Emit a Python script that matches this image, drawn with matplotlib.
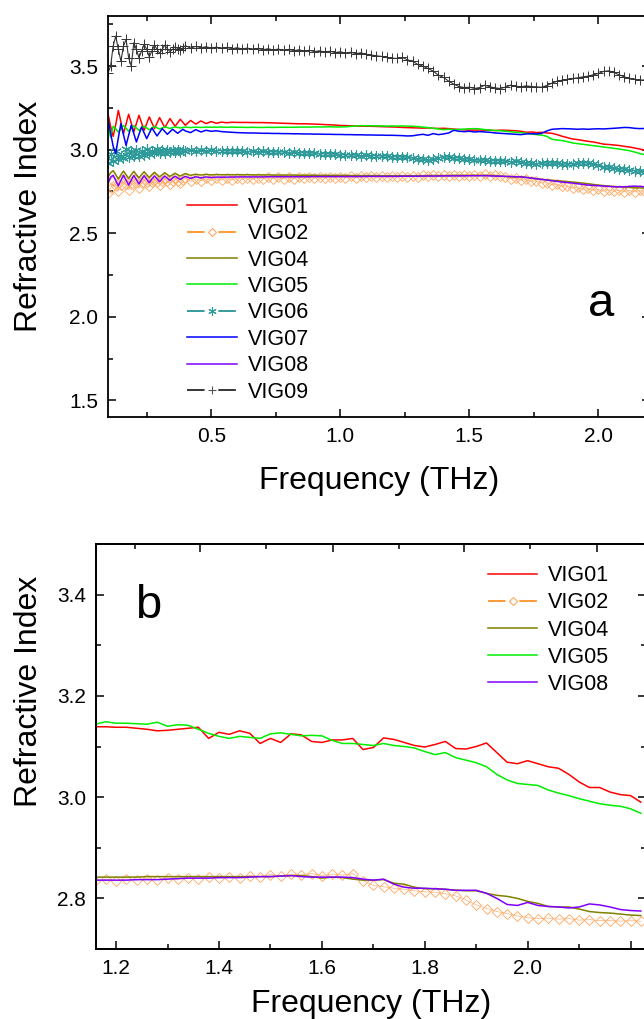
import numpy as np
import matplotlib
matplotlib.use("Agg")
import matplotlib.pyplot as plt
from matplotlib.lines import Line2D
from matplotlib.ticker import MultipleLocator

plt.rcParams["font.family"] = ["Liberation Sans", "DejaVu Sans"]

# ---- panel a: full spectra (0.01 THz steps up to 0.40, then 0.02 THz) ----
FREQ_A = np.round(np.concatenate([np.arange(0.10, 0.405, 0.01),
                                  np.arange(0.42, 2.205, 0.02)]), 2)

VIG01_A = [
    3.215, 3.140, 3.080, 3.150, 3.235, 3.166, 3.096, 3.154, 3.212, 3.159,
    3.106, 3.156, 3.206, 3.161, 3.116, 3.156, 3.196, 3.161, 3.126, 3.159,
    3.192, 3.162, 3.132, 3.159, 3.186, 3.163, 3.140, 3.161, 3.182, 3.164, 3.146,
    3.175, 3.153, 3.172, 3.156, 3.168, 3.158, 3.165, 3.161, 3.164, 3.163,
    3.163, 3.163, 3.162, 3.162, 3.162, 3.161, 3.160, 3.159, 3.158, 3.157,
    3.156, 3.155, 3.155, 3.154, 3.153, 3.152, 3.150, 3.149, 3.147, 3.145,
    3.144, 3.143, 3.142, 3.141, 3.140, 3.140, 3.139, 3.138, 3.137, 3.136,
    3.135, 3.133, 3.132, 3.131, 3.130, 3.129, 3.130, 3.128, 3.127, 3.128,
    3.126, 3.123, 3.121, 3.119, 3.117, 3.117, 3.118, 3.116, 3.117, 3.114,
    3.117, 3.116, 3.115, 3.113, 3.110, 3.104, 3.106, 3.102, 3.104, 3.100,
    3.098, 3.090, 3.080, 3.072, 3.064, 3.060, 3.055, 3.050, 3.046, 3.040,
    3.033, 3.031, 3.028, 3.025, 3.020, 3.016, 3.010, 3.004, 2.997, 2.990,
]
VIG02_A = [
    2.740, 2.770, 2.812, 2.785, 2.752, 2.790, 2.822, 2.792, 2.760, 2.795,
    2.826, 2.798, 2.770, 2.801, 2.826, 2.804, 2.780, 2.806, 2.828, 2.808,
    2.788, 2.810, 2.828, 2.812, 2.796, 2.814, 2.828, 2.815, 2.800, 2.817, 2.828,
    2.810, 2.826, 2.814, 2.828, 2.816, 2.829, 2.818, 2.830, 2.820, 2.831,
    2.822, 2.832, 2.823, 2.833, 2.824, 2.834, 2.825, 2.835, 2.826, 2.835,
    2.827, 2.836, 2.828, 2.837, 2.829, 2.838, 2.830, 2.838, 2.831, 2.839,
    2.832, 2.840, 2.833, 2.841, 2.834, 2.842, 2.835, 2.842, 2.836, 2.843,
    2.837, 2.844, 2.838, 2.845, 2.839, 2.846, 2.840, 2.847, 2.841, 2.848,
    2.842, 2.849, 2.843, 2.850, 2.843, 2.851, 2.844, 2.852, 2.844, 2.850,
    2.840, 2.836, 2.826, 2.830, 2.818, 2.822, 2.810, 2.814, 2.800, 2.803,
    2.790, 2.794, 2.780, 2.784, 2.770, 2.774, 2.762, 2.768, 2.756, 2.762,
    2.752, 2.760, 2.750, 2.758, 2.748, 2.757, 2.748, 2.756, 2.748, 2.755,
]
VIG04_A = [
    2.835, 2.862, 2.874, 2.850, 2.824, 2.849, 2.872, 2.850, 2.828, 2.850,
    2.870, 2.850, 2.831, 2.850, 2.868, 2.850, 2.834, 2.850, 2.865, 2.850,
    2.837, 2.850, 2.862, 2.850, 2.840, 2.850, 2.859, 2.850, 2.842, 2.850, 2.857,
    2.846, 2.853, 2.848, 2.852, 2.849, 2.851, 2.850, 2.850, 2.850, 2.850,
    2.850, 2.850, 2.849, 2.849, 2.849, 2.849, 2.848, 2.848, 2.848, 2.848,
    2.848, 2.847, 2.847, 2.847, 2.847, 2.846, 2.846, 2.846, 2.846, 2.846,
    2.846, 2.845, 2.845, 2.845, 2.845, 2.845, 2.845, 2.844, 2.844, 2.844,
    2.844, 2.844, 2.844, 2.844, 2.844, 2.844, 2.845, 2.845, 2.845, 2.845,
    2.845, 2.846, 2.846, 2.846, 2.846, 2.846, 2.846, 2.846, 2.846, 2.844,
    2.842, 2.840, 2.838, 2.836, 2.838, 2.834, 2.830, 2.826, 2.822, 2.820,
    2.817, 2.814, 2.812, 2.809, 2.806, 2.803, 2.800, 2.796, 2.792, 2.788,
    2.785, 2.782, 2.780, 2.778, 2.776, 2.774, 2.772, 2.771, 2.770, 2.769,
]
VIG05_A = [
    3.140, 3.075, 3.140, 3.125, 3.105, 3.125, 3.145, 3.128, 3.110, 3.127,
    3.143, 3.129, 3.115, 3.128, 3.141, 3.130, 3.119, 3.129, 3.139, 3.131,
    3.123, 3.130, 3.137, 3.132, 3.127, 3.132, 3.136, 3.133, 3.130, 3.133, 3.135,
    3.132, 3.135, 3.133, 3.135, 3.134, 3.135, 3.135, 3.134, 3.135, 3.134,
    3.134, 3.133, 3.134, 3.133, 3.133, 3.134, 3.133, 3.134, 3.134, 3.134,
    3.134, 3.135, 3.135, 3.135, 3.136, 3.136, 3.136, 3.137, 3.136, 3.136,
    3.137, 3.139, 3.142, 3.144, 3.143, 3.143, 3.142, 3.142, 3.141, 3.142,
    3.141, 3.142, 3.141, 3.140, 3.138, 3.135, 3.132, 3.128, 3.124, 3.120,
    3.122, 3.120, 3.121, 3.123, 3.125, 3.126, 3.124, 3.120, 3.117, 3.115,
    3.113, 3.110, 3.107, 3.104, 3.102, 3.098, 3.094, 3.090, 3.087, 3.080,
    3.062, 3.058, 3.054, 3.048, 3.040, 3.036, 3.032, 3.028, 3.024, 3.020,
    3.016, 3.012, 3.008, 3.004, 2.999, 2.994, 2.986, 2.977, 2.970, 2.965,
]
VIG06_A = [
    2.920, 2.975, 2.935, 2.990, 2.945, 2.965, 2.950, 3.005, 2.955, 2.990,
    2.960, 3.000, 2.965, 2.995, 2.970, 3.005, 2.975, 2.995, 2.978, 3.002,
    2.980, 2.998, 2.982, 3.000, 2.984, 2.998, 2.986, 3.000, 2.988, 2.997, 2.990,
    2.996, 2.990, 2.997, 2.991, 2.996, 2.992, 2.995, 2.991, 2.994, 2.990,
    2.993, 2.989, 2.991, 2.988, 2.990, 2.986, 2.988, 2.985, 2.986, 2.983,
    2.984, 2.981, 2.982, 2.979, 2.980, 2.976, 2.977, 2.973, 2.974, 2.970,
    2.970, 2.967, 2.968, 2.965, 2.966, 2.963, 2.964, 2.961, 2.962, 2.958,
    2.958, 2.955, 2.954, 2.950, 2.947, 2.942, 2.940, 2.946, 2.952, 2.956,
    2.955, 2.952, 2.950, 2.945, 2.942, 2.938, 2.936, 2.938, 2.935, 2.934,
    2.932, 2.930, 2.929, 2.930, 2.926, 2.922, 2.918, 2.916, 2.918, 2.920,
    2.920, 2.918, 2.915, 2.913, 2.914, 2.918, 2.922, 2.920, 2.912, 2.906,
    2.898, 2.894, 2.890, 2.886, 2.883, 2.879, 2.875, 2.871, 2.868, 2.865,
]
VIG07_A = [
    3.186, 3.100, 3.020, 2.977, 3.070, 3.156, 3.090, 3.026, 3.086, 3.146,
    3.096, 3.046, 3.091, 3.136, 3.100, 3.066, 3.098, 3.130, 3.106, 3.082,
    3.104, 3.126, 3.109, 3.092, 3.107, 3.122, 3.110, 3.098, 3.110, 3.122, 3.112,
    3.102, 3.120, 3.106, 3.116, 3.110, 3.113, 3.108, 3.106, 3.104, 3.102,
    3.101, 3.100, 3.100, 3.099, 3.098, 3.098, 3.097, 3.097, 3.096, 3.096,
    3.095, 3.095, 3.094, 3.094, 3.093, 3.093, 3.092, 3.092, 3.091, 3.091,
    3.090, 3.090, 3.089, 3.089, 3.088, 3.088, 3.087, 3.087, 3.086, 3.086,
    3.085, 3.084, 3.082, 3.083, 3.088, 3.092, 3.086, 3.096, 3.090, 3.094,
    3.100, 3.116, 3.110, 3.108, 3.110, 3.106, 3.108, 3.106, 3.104, 3.100,
    3.098, 3.096, 3.094, 3.092, 3.090, 3.094, 3.096, 3.094, 3.098, 3.112,
    3.122, 3.124, 3.126, 3.125, 3.124, 3.122, 3.124, 3.122, 3.124, 3.125,
    3.124, 3.126, 3.128, 3.130, 3.133, 3.132, 3.128, 3.126, 3.127, 3.126,
]
VIG08_A = [
    2.800, 2.835, 2.847, 2.815, 2.783, 2.816, 2.846, 2.817, 2.788, 2.818,
    2.845, 2.820, 2.795, 2.821, 2.844, 2.823, 2.802, 2.824, 2.843, 2.826,
    2.808, 2.827, 2.842, 2.829, 2.815, 2.830, 2.841, 2.831, 2.821, 2.832, 2.840,
    2.828, 2.838, 2.831, 2.837, 2.833, 2.836, 2.835, 2.836, 2.836, 2.837,
    2.837, 2.837, 2.837, 2.837, 2.837, 2.838, 2.838, 2.838, 2.838, 2.838,
    2.838, 2.838, 2.838, 2.838, 2.839, 2.839, 2.839, 2.839, 2.839, 2.839,
    2.839, 2.839, 2.839, 2.839, 2.840, 2.840, 2.840, 2.840, 2.840, 2.840,
    2.840, 2.841, 2.841, 2.841, 2.841, 2.842, 2.842, 2.842, 2.842, 2.843,
    2.843, 2.843, 2.843, 2.843, 2.844, 2.844, 2.844, 2.844, 2.843, 2.842,
    2.841, 2.840, 2.839, 2.838, 2.837, 2.834, 2.830, 2.826, 2.822, 2.818,
    2.814, 2.810, 2.806, 2.803, 2.800, 2.796, 2.792, 2.788, 2.786, 2.784,
    2.782, 2.780, 2.778, 2.777, 2.778, 2.780, 2.782, 2.780, 2.778, 2.776,
]
VIG09_A = [
    3.460, 3.500, 3.620, 3.680, 3.600, 3.530, 3.620, 3.660, 3.550, 3.500,
    3.640, 3.600, 3.550, 3.590, 3.630, 3.600, 3.556, 3.590, 3.626, 3.600,
    3.576, 3.600, 3.626, 3.605, 3.586, 3.600, 3.616, 3.605, 3.596, 3.610, 3.622,
    3.608, 3.618, 3.610, 3.616, 3.608, 3.614, 3.606, 3.612, 3.604, 3.610,
    3.603, 3.608, 3.600, 3.606, 3.598, 3.604, 3.597, 3.602, 3.594, 3.600,
    3.592, 3.598, 3.590, 3.595, 3.587, 3.592, 3.584, 3.589, 3.581, 3.586,
    3.578, 3.583, 3.575, 3.580, 3.570, 3.566, 3.562, 3.558, 3.552, 3.548,
    3.546, 3.552, 3.538, 3.530, 3.510, 3.500, 3.486, 3.470, 3.446, 3.432,
    3.410, 3.392, 3.378, 3.372, 3.374, 3.366, 3.372, 3.386, 3.376, 3.370,
    3.366, 3.374, 3.386, 3.380, 3.376, 3.382, 3.378, 3.376, 3.374, 3.384,
    3.398, 3.410, 3.416, 3.420, 3.426, 3.430, 3.436, 3.440, 3.448, 3.456,
    3.468, 3.472, 3.462, 3.448, 3.436, 3.426, 3.420, 3.416, 3.418, 3.420,
]

# ---- panel b: 1.16 - 2.22 THz detail ----
FREQ_B = np.round(np.arange(1.16, 2.225, 0.02), 2)

VIG01_B = [
    3.139, 3.139, 3.138, 3.138, 3.136, 3.134, 3.131, 3.132, 3.134, 3.136,
    3.138, 3.116, 3.128, 3.124, 3.131, 3.126, 3.106, 3.116, 3.108, 3.125,
    3.123, 3.110, 3.108, 3.113, 3.113, 3.116, 3.094, 3.098, 3.117, 3.114,
    3.108, 3.102, 3.099, 3.104, 3.110, 3.096, 3.095, 3.100, 3.107, 3.088,
    3.069, 3.066, 3.072, 3.066, 3.060, 3.057, 3.045, 3.030, 3.019, 3.019,
    3.010, 3.005, 3.003, 2.990,
]
VIG02_B = [
    2.834, 2.838, 2.835, 2.838, 2.836, 2.839, 2.837, 2.840, 2.838, 2.841,
    2.839, 2.842, 2.840, 2.843, 2.841, 2.845, 2.843, 2.847, 2.845, 2.848,
    2.846, 2.849, 2.845, 2.848, 2.846, 2.849, 2.835, 2.826, 2.823, 2.820,
    2.818, 2.815, 2.813, 2.812, 2.809, 2.805, 2.797, 2.787, 2.780, 2.774,
    2.770, 2.765, 2.762, 2.760, 2.761, 2.759, 2.760, 2.757, 2.758, 2.756,
    2.756, 2.755, 2.756, 2.755,
]
VIG04_B = [
    2.842, 2.842, 2.842, 2.842, 2.842, 2.843, 2.843, 2.843, 2.843, 2.843,
    2.843, 2.843, 2.843, 2.843, 2.843, 2.843, 2.843, 2.843, 2.844, 2.845,
    2.845, 2.843, 2.840, 2.842, 2.841, 2.838, 2.836, 2.836, 2.837, 2.830,
    2.828, 2.822, 2.819, 2.819, 2.818, 2.816, 2.815, 2.815, 2.810, 2.806,
    2.804, 2.800, 2.794, 2.790, 2.784, 2.783, 2.783, 2.779, 2.774, 2.772,
    2.771, 2.769, 2.767, 2.766,
]
VIG05_B = [
    3.144, 3.149, 3.146, 3.146, 3.145, 3.144, 3.148, 3.140, 3.143, 3.142,
    3.134, 3.126, 3.120, 3.116, 3.120, 3.118, 3.116, 3.125, 3.127, 3.124,
    3.121, 3.122, 3.121, 3.112, 3.106, 3.106, 3.104, 3.102, 3.106, 3.102,
    3.100, 3.097, 3.090, 3.084, 3.088, 3.078, 3.073, 3.068, 3.060, 3.045,
    3.034, 3.027, 3.025, 3.023, 3.014, 3.008, 3.003, 2.997, 2.992, 2.987,
    2.984, 2.982, 2.977, 2.968,
]
VIG08_B = [
    2.836, 2.836, 2.836, 2.836, 2.837, 2.837, 2.837, 2.838, 2.839, 2.840,
    2.840, 2.840, 2.841, 2.841, 2.841, 2.842, 2.843, 2.843, 2.844, 2.845,
    2.843, 2.842, 2.842, 2.842, 2.842, 2.841, 2.838, 2.836, 2.838, 2.828,
    2.822, 2.820, 2.820, 2.819, 2.818, 2.816, 2.816, 2.816, 2.810, 2.800,
    2.788, 2.786, 2.792, 2.786, 2.784, 2.783, 2.781, 2.783, 2.789, 2.787,
    2.783, 2.778, 2.776, 2.775,
]

SERIES_A = ["VIG01", "VIG02", "VIG04", "VIG05", "VIG06", "VIG07", "VIG08", "VIG09"]
SERIES_B = ["VIG01", "VIG02", "VIG04", "VIG05", "VIG08"]
DATA_A = dict(zip(SERIES_A, [VIG01_A, VIG02_A, VIG04_A, VIG05_A, VIG06_A, VIG07_A, VIG08_A, VIG09_A]))
DATA_B = dict(zip(SERIES_B, [VIG01_B, VIG02_B, VIG04_B, VIG05_B, VIG08_B]))

for v in DATA_A.values():
    assert len(v) == len(FREQ_A)
for v in DATA_B.values():
    assert len(v) == len(FREQ_B)

COLORS = {
    "VIG01": "#FF0000", "VIG02": "#FF8000", "VIG04": "#808000", "VIG05": "#00EE00",
    "VIG06": "#008080", "VIG07": "#0000FF", "VIG08": "#8000FF", "VIG09": "#000000",
}
ASTERISK = (6, 2, 0)
DASH = (0, (11.5, 9))


def draw(ax, freq, name, values):
    if name == "VIG02":
        ax.plot(freq, values, color="#FFB27A", lw=0.5, marker="D", ms=5.2,
                mfc="none", mec="#FFA860", mew=0.6)
    elif name == "VIG06":
        ax.plot(freq, values, color="#2E9A9A", lw=0.8, marker=ASTERISK, ms=7.5,
                mec="#2E9A9A", mew=0.8)
    elif name == "VIG09":
        ax.plot(freq, values, color="#333333", lw=0.8, marker="+", ms=6.5,
                mec="#333333", mew=0.7)
    else:
        ax.plot(freq, values, color=COLORS[name], lw=1.1)


def handle(name):
    if name == "VIG02":
        return Line2D([], [], color="#FF8000", lw=1.1, ls=DASH, marker="D", ms=4.5,
                      mfc="none", mec="#FFA860", mew=0.8)
    if name == "VIG06":
        return Line2D([], [], color="#008080", lw=1.1, ls=DASH, marker=ASTERISK, ms=6,
                      mec="#2E9A9A", mew=0.8)
    if name == "VIG09":
        return Line2D([], [], color="#000000", lw=1.1, ls=DASH, marker="+", ms=6,
                      mec="#555555", mew=0.8)
    return Line2D([], [], color=COLORS[name], lw=1.1)


def style_axes(ax):
    for s in ax.spines.values():
        s.set_linewidth(1.3)
    ax.tick_params(which="both", direction="in", labelsize=15, width=1.1, pad=7)
    ax.tick_params(which="major", length=6)
    ax.tick_params(which="minor", length=3.5)


fig = plt.figure(figsize=(6.44, 10.19), dpi=100)

# panel a
ax1 = fig.add_axes([108 / 644, 1 - 417 / 1019, 542 / 644, 401 / 1019])
for name in SERIES_A:
    draw(ax1, FREQ_A, name, DATA_A[name])
ax1.set_xlim(0.1, 2.2)
ax1.set_ylim(1.4, 3.8)
ax1.xaxis.set_major_locator(MultipleLocator(0.5))
ax1.xaxis.set_minor_locator(MultipleLocator(0.25))
ax1.yaxis.set_major_locator(MultipleLocator(0.5))
ax1.yaxis.set_minor_locator(MultipleLocator(0.25))
style_axes(ax1)
ax1.tick_params(which="both", top=True, right=True)
ax1.set_xlabel("Frequency (THz)", fontsize=23)
ax1.set_ylabel("Refractive Index", fontsize=23)
ax1.xaxis.set_label_coords(0.5, -0.122)
ax1.yaxis.set_label_coords(-0.118, 0.5)
ax1.legend([handle(n) for n in SERIES_A], SERIES_A, loc="upper left",
           bbox_to_anchor=(0.146, 0.549), frameon=False, fontsize=15.5,
           borderpad=0, borderaxespad=0, handlelength=2.3, handletextpad=0.5,
           labelspacing=0.25)
ax1.text(0.9096, 0.252, "a", transform=ax1.transAxes, fontsize=34,
         ha="center", va="baseline")

# panel b
ax2 = fig.add_axes([96 / 644, 1 - 949 / 1019, 550 / 644, 405 / 1019])
for name in SERIES_B:
    draw(ax2, FREQ_B, name, DATA_B[name])
ax2.set_xlim(1.161, 2.23)
ax2.set_ylim(2.7, 3.5)
ax2.set_xticks([1.2, 1.4, 1.6, 1.8, 2.0, 2.2], labels=["1.2", "1.4", "1.6", "1.8", "2.0", ""])
ax2.xaxis.set_minor_locator(MultipleLocator(0.1))
ax2.yaxis.set_major_locator(MultipleLocator(0.2))
ax2.yaxis.set_minor_locator(MultipleLocator(0.1))
style_axes(ax2)
ax2.tick_params(which="both", top=False, right=True)
ax2.set_xlabel("Frequency (THz)", fontsize=23)
ax2.set_ylabel("Refractive Index", fontsize=23)
ax2.xaxis.set_label_coords(0.5, -0.098)
ax2.yaxis.set_label_coords(-0.0945, 0.635)
ax2.legend([handle(n) for n in SERIES_B], SERIES_B, loc="upper left",
           bbox_to_anchor=(0.7127, 0.948), frameon=False, fontsize=15.5,
           borderpad=0, borderaxespad=0, handlelength=2.3, handletextpad=0.5,
           labelspacing=0.29)
ax2.text(0.0945, 0.817, "b", transform=ax2.transAxes, fontsize=34,
         ha="center", va="baseline")

# top axis of panel b carries its own, offset tick marks
top = ax2.twiny()
top.set_xlim(ax2.get_xlim())
top.set_xticks([1.364, 1.621, 1.877, 2.134])
top.set_xticks([1.236, 1.492, 1.749, 2.005], minor=True)
top.tick_params(which="both", direction="in", width=1.1, labeltop=False)
top.tick_params(which="major", length=6)
top.tick_params(which="minor", length=3.5)
for s in top.spines.values():
    s.set_linewidth(1.3)

fig.savefig("out.png", dpi=100)
